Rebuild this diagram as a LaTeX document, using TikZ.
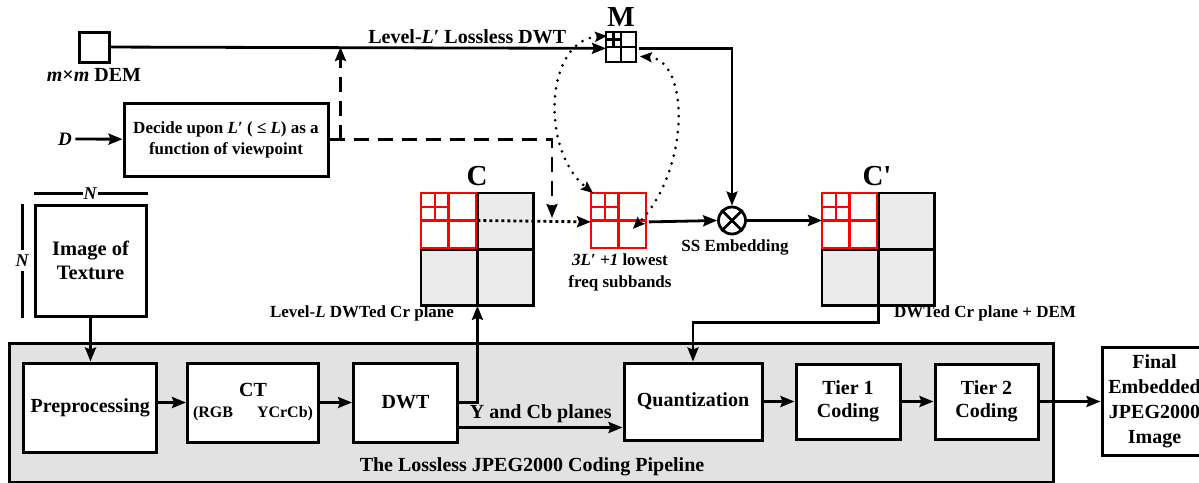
\documentclass[tikz,border=0pt]{standalone}
\usepackage{fontspec}
\setmainfont{Liberation Serif}
\usepackage{xcolor}
\usepackage{tikz}
\usetikzlibrary{arrows.meta,positioning}
\definecolor{pipefill}{HTML}{E2E2E2}
\definecolor{bandfill}{HTML}{EBEBEB}
\definecolor{bandred}{HTML}{FF0000}
\newcommand{\fsz}[2]{\fontsize{#1}{#2}\selectfont}
\newcommand{\pyramid}[3]{%
  \begin{scope}[shift={(#1)}, color=#3]
    \draw[line width=2.5pt] (0,0) rectangle (#2,#2) (#2/2,0) -- (#2/2,#2) (0,#2/2) -- (#2,#2/2)
          (#2/4,0) -- (#2/4,#2/2) (0,#2/4) -- (#2/2,#2/4);
  \end{scope}}
\newcommand{\dwtplane}[1]{%
  \fill[bandfill] ([shift={(55,0)}]#1.north west) rectangle (#1.south east)
                  ([shift={(0,55)}]#1.north west) rectangle ([shift={(55,0)}]#1.south west);
  \draw[line width=2.8pt] (#1.north west) rectangle (#1.south east)
        (#1.north) -- (#1.south) (#1.west) -- (#1.east);
  \pyramid{#1.north west}{55}{bandred}}

\begin{document}
\begin{tikzpicture}[
  x=1pt, y=-1pt,
  font=\fsz{17}{21}\bfseries,
  line width=2.8pt,
  inner sep=2pt,
  box/.style={draw, line width=3pt, fill=white, align=center},
  stage/.style={box, font=\fsz{20}{23}\bfseries},
  pipe/.style={draw, line width=2.8pt, fill=pipefill, inner sep=0pt},
  plane/.style={minimum size=110pt, inner sep=0pt, anchor=north west},
  tag/.style={font=\fsz{29}{30}\bfseries},
  arrow/.style={line width=2.8pt, -{Stealth[length=14pt,width=11pt,inset=2pt]}},
  dasharrow/.style={arrow, dash pattern=on 15pt off 9pt},
  dotarrow/.style={arrow, dash pattern=on 3pt off 3pt},
  dotarc/.style={{Stealth[length=12pt,width=10pt,inset=2pt]}-{Stealth[length=12pt,width=10pt,inset=2pt]},
                 line width=3pt, line cap=round, dash pattern=on 0pt off 8pt},
  dimline/.style={line width=2.2pt}
]
  \useasboundingbox (0,0) rectangle (1199,482);

  \node[pipe, minimum width=1044pt, minimum height=139pt, anchor=north west] (pipeline) at (8,342) {};
  \node[font=\fsz{20}{23}\bfseries] (pipelab) at (532,467) {The Lossless JPEG2000 Coding Pipeline};

  \node[box, minimum size=30pt] (dem) at (94,47) {};
  \node[font=\fsz{20}{23}\bfseries] (demlab) at (94,75) {\textit{m}×\textit{m} DEM};
  \node[minimum size=30pt, inner sep=0pt, anchor=north west] (msq) at (606,32) {};
  \pyramid{msq.north west}{30}{black}
  \node[tag] (mlab) at (621,17) {M};

  \node[box, minimum width=204pt, minimum height=73pt] (decide) at (226,139.5)
    {Decide upon \textit{L}′ ( ≤ \textit{L}) as a\\function of viewpoint};
  \node[font=\fsz{19}{20}\bfseries] (din) at (65,139) {\textit{D}};
  \coordinate (tap) at ([xshift=11pt]decide.east);
  \coordinate (drop) at (552,218);

  \node[box, minimum size=111pt, font=\fsz{20.5}{24}\bfseries] (img) at (90.5,260.5) {Image of\\Texture};

  \node[plane] (cmat) at (421,193) {};
  \node[plane] (cpmat) at (822,193) {};
  \node[minimum size=55pt, inner sep=0pt, anchor=north west] (sq) at (591,193) {};
  \dwtplane{cmat}
  \dwtplane{cpmat}
  \pyramid{sq.north west}{55}{bandred}
  \node[tag] (clab) at (477,176) {C};
  \node[tag] (cplab) at (877,176) {C\textquotesingle};

  \node[draw, circle, line width=2.8pt, minimum size=27pt, inner sep=0pt] (emb) at (732,220.5) {};
  \draw[line width=2.6pt] (emb.north west) -- (emb.south east) (emb.north east) -- (emb.south west);

  \node (emblab) at (735,247) {SS Embedding};
  \node[align=center, font=\fsz{17}{22}\bfseries] (sqlab) at (620,272) {\textit{3L}′ \textit{+1} lowest\\freq subbands};
  \node (clevlab) at (362,313) {Level-\textit{L} DWTed Cr plane};
  \node (cplevlab) at (985,313) {DWTed Cr plane + DEM};

  \node[stage, minimum width=133pt, minimum height=89pt] (pre) at (90.3,407.5) {Preprocessing};
  \node[stage, minimum width=131pt, minimum height=79pt] (ct) at (253,402.5)
    {CT\\[-2pt]{\fsz{16}{18}\bfseries(RGB\hspace{1.5em}YCrCb)}};
  \node[stage, minimum width=104pt, minimum height=79pt, right=32pt of ct] (dwt) {DWT};
  \node[stage, minimum width=138pt, minimum height=77pt] (quant) at (693,401.5) {Quantization};
  \node[stage, minimum width=104pt, minimum height=75pt, right=31pt of quant] (tier1) {Tier 1\\Coding};
  \node[stage, minimum width=103pt, minimum height=75pt, right=32pt of tier1] (tier2) {Tier 2\\Coding};
  \node[stage, minimum width=105pt, minimum height=108pt, right=61pt of tier2,
        font=\fsz{20}{25}\bfseries] (final) {Final\\Embedded\\JPEG2000\\Image};

  \draw[arrow] (dem) -- (msq)
    node[pos=0.72, above=1pt, font=\fsz{20}{23}\bfseries] (lvllab) {Level-\textit{L}′ Lossless DWT};
  \draw[arrow] (msq.east) -| (emb.north);
  \draw[arrow] (din) -- (decide);
  \draw[dasharrow] (decide.east) -| (drop);
  \draw[dasharrow] (tap) -- (tap |- dem);
  \draw[dotarrow] ([yshift=-27.5pt]cmat.north) -- (sq.west);
  \draw[dotarc] ([shift={(1,4)}]msq.north west) .. controls (545,40) and (540,150) .. ([shift={(2,0)}]sq.north west);
  \draw[dotarc] ([shift={(1,8)}]msq.east) .. controls (690,60) and (690,170) .. ([shift={(13,7)}]sq.center);
  \draw[arrow] (sq.east) -- (emb.west);
  \draw[arrow] (emb.east) -- (emb.east -| cpmat.west);
  \draw[arrow] (dwt.east) -| (cmat.south);
  \coordinate (ycb) at ([yshift=-25pt]dwt.east);
  \draw[arrow] (ycb) -- (ycb -| quant.west)
    node[midway, above=1pt, font=\fsz{20}{23}\bfseries] (ycblab) {Y and Cb planes};
  \draw[arrow] (cpmat.south) -- ++(0,17) -| (quant.north);
  \draw[arrow] (img.south) -- (img.south |- pre.north);
  \draw[arrow] (pre.east |- ct.west) -- (ct.west);
  \draw[arrow] (ct) -- (dwt);
  \draw[arrow] (quant) -- (tier1);
  \draw[arrow] (tier1) -- (tier2);
  \draw[arrow] (tier2) -- (final);

  \draw[dimline] ([yshift=10pt]img.north west) -- ([yshift=10pt]img.north east)
    node[midway, fill=white, inner sep=1pt, font=\fsz{18}{20}\bfseries] (ntop) {\textit{N}};
  \draw[dimline] ([xshift=-11pt]img.north west) -- ([xshift=-11pt]img.south west)
    node[midway, fill=white, inner xsep=1pt, inner ysep=5pt, font=\fsz{18}{20}\bfseries] (nside) {\textit{N}};
\end{tikzpicture}
\end{document}
